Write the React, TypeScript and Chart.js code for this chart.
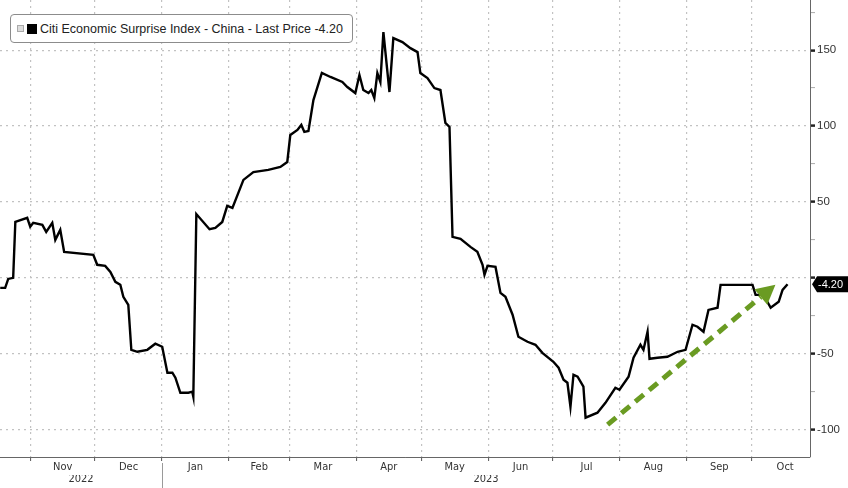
import React, { useEffect, useRef } from 'react';
import { Chart, registerables } from 'chart.js';

Chart.register(...registerables);

// x values are day offsets from 2022-11-01
const dayOffsets = [
  -13.9, -11.6, -10.2, -7.9, -6.9, -1.4, 0, 1.4, 5.6, 7.4,
  10.2, 11.6, 13.9, 15.7, 29.2, 31.0, 34.7, 37.1, 39.4, 41.7,
  43.1, 45.4, 46.8, 49.6, 54.2, 57.9, 61.1, 63.5, 65.8, 67.2,
  69.5, 73.2, 75.0, 75.5, 76.9, 83.0, 85.7, 88.9, 91.2, 93.6,
  98.7, 103.3, 110.2, 115.8, 119.0, 120.4, 123.7, 125.5, 126.9, 128.8,
  131.1, 135.0, 139.0, 144.5, 146.8, 150.5, 152.4, 154.2, 156.6, 157.9,
  159.3, 160.7, 162.1, 163.5, 166.3, 168.1, 172.3, 176.0, 179.3, 180.6,
  183.9, 187.1, 189.9, 192.2, 194.1, 195.5, 199.2, 203.8, 207.0, 209.4,
  210.3, 211.7, 215.4, 217.7, 220.0, 223.3, 226.0, 230.2, 233.9, 237.1,
  242.2, 244.6, 246.9, 248.7, 250.1, 251.5, 253.4, 256.1, 257.1, 262.6,
  266.3, 270.9, 272.8, 277.0, 279.3, 282.5, 283.9, 285.8, 286.7, 290.4,
  295.0, 299.7, 303.4, 306.6, 308.9, 311.7, 314.0, 318.2, 319.6, 334.4,
  335.8, 339.5, 342.8, 346.5, 348.3, 350.6,
];

const surpriseValues = [
  -6.6, -6.6, -0.7, 0, 36.8, 39.5, 33.6, 36.2, 34.9, 30.3,
  36.2, 25.0, 31.6, 17.1, 15.1, 8.6, 7.9, 3.9, -2.6, -4.6,
  -12.5, -17.8, -47.4, -48.7, -47.4, -43.4, -45.4, -62.5, -62.5, -65.8,
  -75.7, -75.7, -75.0, -78.3, 42.0, 32.0, 32.9, 36.8, 47.4, 46.1,
  64.5, 69.7, 71.1, 73.0, 76.3, 94.1, 97.4, 100.7, 96.1, 96.7,
  117.1, 135.0, 132.3, 129.0, 125.7, 121.7, 133.6, 123.7, 121.7, 123.7,
  118.4, 134.9, 129.0, 161.9, 122.4, 157.9, 155.3, 151.3, 148.7, 134.9,
  131.6, 125.0, 123.7, 102.0, 99.4, 27.0, 25.7, 20.4, 17.1, 8.6,
  2.0, 7.9, 7.2, -9.9, -12.5, -24.3, -38.8, -42.1, -44.1, -49.4,
  -55.3, -59.2, -67.1, -69.1, -84.9, -63.8, -65.1, -71.7, -92.1, -88.8,
  -82.3, -72.4, -73.7, -65.1, -52.6, -44.1, -47.4, -35.5, -53.3, -52.6,
  -52.0, -48.7, -47.4, -30.9, -32.2, -35.5, -21.1, -19.7, -4.6, -4.6,
  -11.2, -11.2, -19.7, -15.8, -7.9, -4.2,
];

const lastPrice = -4.2;
const seriesName = 'Citi Economic Surprise Index - China - Last Price';

const monthStarts = [0, 30, 61, 92, 120, 151, 181, 212, 242, 273, 304, 334];
const monthMids = [15, 45.5, 76.5, 106, 135.5, 166, 196.5, 227, 257.5, 288.5, 319, 349.5];
const monthLabels = ['Nov', 'Dec', 'Jan', 'Feb', 'Mar', 'Apr', 'May', 'Jun', 'Jul', 'Aug', 'Sep', 'Oct'];
const yearMids = [23.5, 211];
const yearLabels = ['2022', '2023'];
const yearBoundary = 61;

const yTicks = [-100, -75, -50, -25, 0, 25, 50, 75, 100, 125, 150, 175];

const xMin = -14;
const xMax = 361;
const yMin = -118;
const yMax = 183;

// green trend arrow, in data units (day offset, index value)
const arrowStart = { x: 267.3, y: -96.7 };
const arrowEnd = { x: 345, y: -4.6 };

const AXIS_FONT = "'Liberation Sans Narrow', 'DejaVu Sans Condensed', 'Liberation Sans', sans-serif";

const overlayPlugin = {
  id: 'overlay',
  afterDatasetsDraw(chart: any) {
    const { ctx, scales } = chart;
    const xs = scales.x;
    const ys = scales.y;
    const x1 = xs.getPixelForValue(arrowStart.x);
    const y1 = ys.getPixelForValue(arrowStart.y);
    const x2 = xs.getPixelForValue(arrowEnd.x);
    const y2 = ys.getPixelForValue(arrowEnd.y);
    const ang = Math.atan2(y2 - y1, x2 - x1);
    const head = 19;
    const bx = x2 - head * Math.cos(ang);
    const by = y2 - head * Math.sin(ang);
    ctx.save();
    ctx.strokeStyle = '#6a9b22';
    ctx.fillStyle = '#6a9b22';
    ctx.lineWidth = 5;
    ctx.lineCap = 'butt';
    ctx.setLineDash([11, 7]);
    ctx.beginPath();
    ctx.moveTo(x1, y1);
    ctx.lineTo(bx, by);
    ctx.stroke();
    ctx.setLineDash([]);
    const px = -Math.sin(ang);
    const py = Math.cos(ang);
    const hw = 10;
    ctx.beginPath();
    ctx.moveTo(x2, y2);
    ctx.lineTo(bx + px * hw, by + py * hw);
    ctx.lineTo(bx - px * hw, by - py * hw);
    ctx.closePath();
    ctx.fill();
    ctx.restore();
  },
  afterDraw(chart: any) {
    const { ctx, chartArea, scales } = chart;
    const ys = scales.y;
    const xs = scales.x;
    // last price tag
    const yp = ys.getPixelForValue(lastPrice);
    const left = chartArea.right + 2;
    const h = 16;
    ctx.save();
    ctx.fillStyle = '#000';
    ctx.beginPath();
    ctx.moveTo(left, yp);
    ctx.lineTo(left + 5, yp - h / 2);
    ctx.lineTo(chart.width, yp - h / 2);
    ctx.lineTo(chart.width, yp + h / 2);
    ctx.lineTo(left + 5, yp + h / 2);
    ctx.closePath();
    ctx.fill();
    ctx.fillStyle = '#fff';
    ctx.font = "11px 'Liberation Sans Narrow', 'Liberation Sans', sans-serif";
    ctx.textBaseline = 'middle';
    ctx.textAlign = 'left';
    ctx.fillText(lastPrice.toFixed(2), left + 6, yp + 0.5);
    // year separator
    const sx = Math.round(xs.getPixelForValue(yearBoundary)) + 0.5;
    ctx.strokeStyle = '#9a9a9a';
    ctx.lineWidth = 1;
    ctx.beginPath();
    ctx.moveTo(sx, chartArea.bottom + 6);
    ctx.lineTo(sx, chart.height);
    ctx.stroke();
    ctx.restore();
  },
};

export default function App() {
  const canvasRef = useRef<HTMLCanvasElement>(null);

  useEffect(() => {
    const canvas = canvasRef.current;
    if (!canvas) return;
    const points = dayOffsets.map((d, i) => ({ x: d, y: surpriseValues[i] }));
    const chart = new Chart(canvas, {
      type: 'line',
      data: {
        datasets: [
          {
            label: seriesName,
            data: points,
            borderColor: '#000000',
            borderWidth: 2.4,
            pointRadius: 0,
            tension: 0,
            xAxisID: 'x',
            yAxisID: 'y',
          },
        ],
      },
      options: {
        animation: false,
        responsive: true,
        maintainAspectRatio: false,
        layout: { padding: 0 },
        plugins: {
          legend: { display: false },
          tooltip: { enabled: false },
        },
        scales: {
          x: {
            type: 'linear',
            position: 'bottom',
            weight: 0,
            min: xMin,
            max: xMax,
            bounds: 'data',
            afterBuildTicks: (scale: any) => {
              scale.ticks = monthStarts.map((v) => ({ value: v }));
            },
            afterFit: (scale: any) => {
              scale.height = 4;
              scale.paddingLeft = 0;
              scale.paddingRight = 0;
            },
            ticks: { display: false },
            grid: {
              color: '#c2c2c2',
              lineWidth: 1.2,
              drawTicks: true,
              tickLength: 4,
              tickColor: '#555',
              tickWidth: 1,
              tickBorderDash: [],
            },
            border: { display: true, color: '#666', width: 1, dash: [2, 4] },
          },
          x2: {
            type: 'linear',
            position: 'bottom',
            weight: 1,
            min: xMin,
            max: xMax,
            bounds: 'data',
            afterBuildTicks: (scale: any) => {
              scale.ticks = monthMids.map((v) => ({ value: v }));
            },
            afterFit: (scale: any) => {
              scale.height = 14;
              scale.paddingLeft = 0;
              scale.paddingRight = 0;
            },
            ticks: {
              autoSkip: false,
              maxRotation: 0,
              padding: -8,
              color: '#333',
              font: { family: AXIS_FONT, size: 11 },
              callback: (_v: any, i: number) => monthLabels[i],
            },
            grid: { display: false },
            border: { display: false },
          },
          x3: {
            type: 'linear',
            position: 'bottom',
            weight: 2,
            min: xMin,
            max: xMax,
            bounds: 'data',
            afterBuildTicks: (scale: any) => {
              scale.ticks = yearMids.map((v) => ({ value: v }));
            },
            afterFit: (scale: any) => {
              scale.height = 13;
              scale.paddingLeft = 0;
              scale.paddingRight = 0;
            },
            ticks: {
              autoSkip: false,
              maxRotation: 0,
              padding: -10,
              color: '#333',
              font: { family: AXIS_FONT, size: 11 },
              callback: (_v: any, i: number) => yearLabels[i],
            },
            grid: { display: false },
            border: { display: false },
          },
          y: {
            type: 'linear',
            position: 'right',
            min: yMin,
            max: yMax,
            bounds: 'data',
            afterBuildTicks: (scale: any) => {
              scale.ticks = yTicks.map((v) => ({ value: v }));
            },
            afterFit: (scale: any) => {
              scale.width = 38;
              scale.paddingTop = 0;
              scale.paddingBottom = 0;
            },
            ticks: {
              padding: 2,
              color: '#333',
              font: { family: "'Liberation Sans', sans-serif", size: 11.5 },
              callback: (v: any) => (v % 50 === 0 && v !== 0 ? String(v) : ''),
            },
            grid: {
              color: (c: any) => (c.tick && c.tick.value % 50 === 0 ? '#c2c2c2' : 'rgba(0,0,0,0)'),
              lineWidth: 1.2,
              drawTicks: true,
              tickLength: 5,
              tickColor: (c: any) => (c.tick && c.tick.value % 50 === 0 ? '#222' : '#aaa'),
              tickWidth: (c: any) => (c.tick && c.tick.value % 50 === 0 ? 2.5 : 1),
              tickBorderDash: [],
            },
            border: { display: true, color: '#666', width: 1, dash: [2, 4] },
          },
        },
      } as any,
      plugins: [overlayPlugin],
    });
    return () => chart.destroy();
  }, []);

  return (
    <div
      style={{
        position: 'fixed',
        left: 0,
        top: 0,
        width: 848,
        height: 488,
        background: '#fff',
      }}
    >
      <canvas ref={canvasRef} style={{ display: 'block' }} />
      <div
        style={{
          position: 'absolute',
          left: 10,
          top: 14,
          width: 343,
          height: 29,
          boxSizing: 'border-box',
          border: '1.5px solid #8c8c8c',
          borderRadius: 4,
          background: '#fff',
          display: 'flex',
          alignItems: 'center',
          fontFamily: "'Liberation Sans', Arial, sans-serif",
          fontSize: 12.5,
          color: '#222',
          whiteSpace: 'nowrap',
        }}
      >
        <span
          style={{
            display: 'inline-block',
            width: 5,
            height: 5,
            marginLeft: 6,
            border: '1px solid #aaa',
            background: '#ddd',
          }}
        />
        <span
          style={{
            display: 'inline-block',
            width: 10,
            height: 10,
            marginLeft: 3,
            background: '#000',
          }}
        />
        <span style={{ marginLeft: 3 }}>
          {seriesName} {lastPrice.toFixed(2)}
        </span>
      </div>
    </div>
  );
}
